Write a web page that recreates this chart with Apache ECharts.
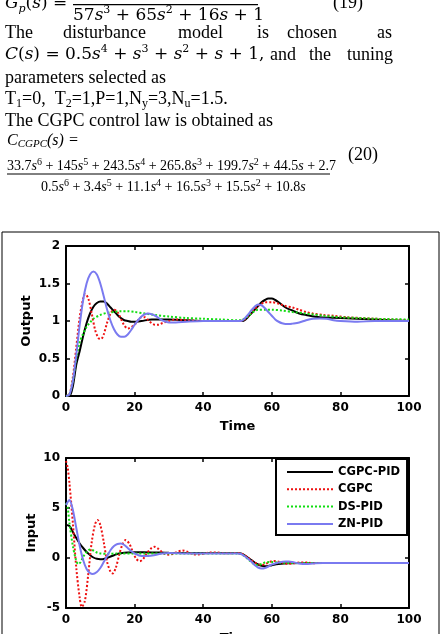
<!DOCTYPE html>
<html>
<head>
<meta charset="utf-8">
<script src="https://cdn.jsdelivr.net/npm/echarts@6/dist/echarts.min.js"></script>
<style>
  html, body { margin: 0; padding: 0; background: #fff; }
  #chart { width: 442px; height: 634px; }
</style>
</head>
<body>
<div id="chart"></div>
<script>
// series names (legend order)
const seriesNames = ['CGPC-PID', 'CGPC', 'DS-PID', 'ZN-PID'];

// output response [time, value]
const outCgpcPid = [[0,0],[1,0],[2,0.13],[3,0.42],[4,0.6],[5,0.8],[6,0.97],[7,1.1],[8,1.19],[9,1.24],[10,1.26],[11,1.26],[12,1.23],[13,1.18],[14,1.13],[15,1.08],[16,1.04],[17,1.01],[18,1.0],[19,0.99],[20,0.99],[22,1.0],[25,1.02],[30,1.02],[35,1.01],[40,1.0],[50,1.0],[51,1.0],[52,1.01],[53,1.05],[54,1.1],[55,1.15],[56,1.2],[57,1.25],[58,1.28],[59,1.3],[60,1.3],[61,1.28],[62,1.25],[64,1.18],[66,1.14],[68,1.1],[70,1.08],[74,1.05],[80,1.04],[90,1.02],[100,1.0]];
const outCgpc = [[0,0],[1,0.02],[2,0.25],[3,0.65],[4,1.05],[5,1.3],[5.6,1.36],[6.5,1.3],[7.5,1.1],[8.5,0.88],[9.5,0.77],[10.2,0.76],[11,0.82],[12,0.98],[13,1.1],[14,1.15],[15,1.12],[16,1.03],[17,0.94],[18,0.9],[19,0.92],[20,0.95],[21,1.01],[22,1.05],[23,1.05],[24,1.01],[25,0.97],[26,0.95],[27,0.95],[28,0.97],[30,1.0],[32,1.02],[35,1.01],[40,1.0],[50,1.0],[51,1.0],[52,1.02],[53,1.06],[54,1.11],[55,1.16],[56,1.2],[57,1.23],[58,1.25],[60,1.25],[62,1.23],[64,1.2],[66,1.18],[68,1.15],[70,1.12],[72,1.1],[75,1.08],[78,1.07],[82,1.05],[86,1.04],[90,1.03],[95,1.02],[100,1.01]];
const outDsPid = [[0,0],[1,0.02],[2,0.2],[3,0.5],[4,0.72],[5,0.83],[6,0.92],[7,0.98],[8,1.03],[10,1.08],[12,1.11],[14,1.12],[16,1.13],[18,1.13],[20,1.12],[23,1.1],[26,1.08],[30,1.06],[35,1.04],[40,1.03],[45,1.02],[50,1.01],[51,1.01],[52,1.03],[53,1.06],[54,1.1],[55,1.13],[56,1.15],[58,1.15],[60,1.15],[63,1.14],[66,1.12],[70,1.1],[75,1.07],[80,1.05],[85,1.04],[90,1.03],[100,1.02]];
const outZnPid = [[0,0],[1,0.02],[2,0.2],[3,0.55],[4,0.95],[5,1.28],[6,1.5],[7,1.62],[8,1.66],[9,1.62],[10,1.5],[11,1.33],[12,1.15],[13,1.0],[14,0.89],[15,0.82],[16,0.79],[17,0.79],[18,0.82],[19,0.88],[20,0.95],[21,1.01],[22,1.06],[23,1.09],[24,1.1],[25,1.09],[26,1.07],[27,1.04],[28,1.01],[30,0.98],[32,0.98],[35,0.99],[40,1.0],[50,1.0],[51,1.0],[52,1.03],[53,1.08],[54,1.14],[55,1.19],[56,1.22],[57,1.21],[58,1.17],[59,1.12],[60,1.07],[61,1.02],[62,0.99],[63,0.97],[64,0.96],[65,0.96],[66,0.965],[68,0.98],[70,1.01],[72,1.03],[74,1.035],[76,1.03],[78,1.01],[80,1.0],[85,0.99],[90,1.0],[100,1.0]];

// control input [time, value]
const inCgpcPid = [[0,3.3],[1,3.2],[2,2.6],[3,2.0],[4,1.45],[5,1.0],[6,0.6],[7,0.3],[8,0.05],[9,-0.08],[10,-0.12],[11,-0.1],[12,0.0],[13,0.15],[14,0.28],[15,0.4],[16,0.47],[18,0.54],[20,0.57],[25,0.56],[30,0.52],[40,0.5],[50,0.5],[51,0.45],[52,0.3],[53,0.05],[54,-0.2],[55,-0.45],[56,-0.65],[57,-0.78],[58,-0.82],[59,-0.8],[60,-0.72],[62,-0.6],[65,-0.52],[70,-0.5],[100,-0.5]];
const inCgpc = [[0,9.7],[0.5,9.0],[1,7.5],[2,3.5],[3,-1.0],[4,-4.0],[4.6,-4.9],[5.5,-4.3],[6.5,-1.6],[7.5,1.6],[8.5,3.4],[9.2,3.8],[10,3.3],[11,1.6],[12,-0.4],[13,-1.4],[13.6,-1.55],[14.5,-1.0],[15.5,0.3],[16.5,1.4],[17.4,1.8],[18.5,1.4],[19.5,0.6],[20.5,-0.1],[21.5,-0.32],[22.5,-0.1],[23.5,0.45],[24.8,0.95],[25.8,1.12],[27,0.9],[28,0.6],[29,0.38],[30,0.33],[31,0.4],[32.5,0.62],[34,0.75],[35.5,0.6],[37,0.4],[38.5,0.35],[40,0.42],[42,0.55],[44,0.55],[46,0.47],[48,0.48],[50,0.5],[51,0.45],[52,0.3],[53,0.05],[54,-0.2],[55,-0.45],[56,-0.62],[57,-0.7],[58,-0.62],[59,-0.45],[60,-0.33],[61,-0.3],[62,-0.36],[63,-0.46],[64,-0.55],[65,-0.58],[66,-0.55],[68,-0.45],[70,-0.45],[72,-0.52],[75,-0.5],[100,-0.5]];
const inDsPid = [[0,5.5],[0.5,5.0],[1,3.5],[2,1.2],[3,-0.3],[3.6,-0.6],[4.2,-0.45],[5,0.1],[6,0.6],[7,0.85],[8,0.75],[9,0.55],[10,0.45],[12,0.42],[15,0.45],[20,0.45],[30,0.45],[40,0.45],[50,0.45],[51,0.4],[52,0.2],[53,-0.1],[54,-0.4],[55,-0.65],[56,-0.7],[57,-0.6],[58,-0.45],[60,-0.4],[62,-0.45],[65,-0.5],[100,-0.5]];
const inZnPid = [[0,5.3],[0.5,5.6],[1,5.8],[2,4.8],[3,3.0],[4,1.2],[5,-0.2],[6,-1.1],[7,-1.5],[7.8,-1.6],[9,-1.4],[10,-1.0],[11,-0.4],[12,0.2],[13,0.8],[14,1.2],[15,1.4],[16,1.45],[17,1.3],[18,1.0],[19,0.7],[20,0.45],[22,0.2],[24,0.2],[26,0.3],[28,0.45],[30,0.5],[35,0.45],[50,0.45],[51,0.4],[52,0.2],[53,-0.05],[54,-0.35],[55,-0.7],[56,-0.95],[57,-1.05],[58,-1.0],[59,-0.85],[60,-0.65],[62,-0.45],[64,-0.35],[65,-0.35],[66,-0.4],[68,-0.55],[70,-0.6],[72,-0.55],[75,-0.5],[100,-0.5]];

const colors = ['#000000', '#ee1111', '#11dd11', '#7a7af0'];
const lineTypes = ['solid', 'dotted', 'dotted', 'solid'];
const sans = 'DejaVu Sans';
const serif = 'Liberation Serif';
const mathF = 'DejaVu Serif';

let chart = echarts.init(document.getElementById('chart'));

function xAx(gi, top) {
	return {
		type: 'value', gridIndex: gi, min: 0, max: 100, interval: 20,
		position: top ? 'top' : 'bottom',
		name: top ? '' : 'Time', nameLocation: 'middle', nameGap: 24, nameMoveOverlap: false,
		nameTextStyle: {fontFamily: sans, fontWeight: 'bold', fontSize: 13, color: '#000'},
		axisLine: {show: true, onZero: false, lineStyle: {color: '#000', width: 2}},
		axisTick: {show: true, inside: true, length: 4, lineStyle: {color: '#000', width: 1.5}},
		axisLabel: {show: !top, fontFamily: sans, fontWeight: 'bold', fontSize: 12, color: '#000', margin: 6},
		splitLine: {show: false}
	};
}
function yAx(gi, right, min, max, interval, name, gap) {
	return {
		type: 'value', gridIndex: gi, min: min, max: max, interval: interval,
		position: right ? 'right' : 'left',
		name: right ? '' : name, nameLocation: 'middle', nameGap: gap || 30, nameRotate: 90, nameMoveOverlap: false,
		nameTextStyle: {fontFamily: sans, fontWeight: 'bold', fontSize: 13, color: '#000'},
		axisLine: {show: true, onZero: false, lineStyle: {color: '#000', width: 2}},
		axisTick: {show: true, inside: true, length: 4, lineStyle: {color: '#000', width: 1.5}},
		axisLabel: {show: !right, fontFamily: sans, fontWeight: 'bold', fontSize: 12, color: '#000', margin: 6},
		splitLine: {show: false}
	};
}
function mkSeries(name, idx, data, axisIdx) {
	return {
		name: name, type: 'line', data: data, xAxisIndex: axisIdx, yAxisIndex: axisIdx,
		showSymbol: false, symbol: 'none', smooth: 0.3, animation: false,
		lineStyle: {color: colors[idx], width: 2, type: lineTypes[idx]},
		itemStyle: {color: colors[idx]}
	};
}

const rich = {
	t: {fontFamily: serif, fontSize: 18, lineHeight: 22, fill: '#000'},
	tb: {fontFamily: serif, fontSize: 12, lineHeight: 12, verticalAlign: 'bottom'},
	m: {fontFamily: mathF, fontSize: 17, lineHeight: 22},
	mi: {fontFamily: mathF, fontStyle: 'italic', fontSize: 17, lineHeight: 22},
	ms: {fontFamily: mathF, fontSize: 11, lineHeight: 12, verticalAlign: 'top'},
	mb: {fontFamily: mathF, fontStyle: 'italic', fontSize: 11, lineHeight: 12, verticalAlign: 'bottom'},
	n: {fontFamily: serif, fontSize: 14, lineHeight: 18},
	ni: {fontFamily: serif, fontStyle: 'italic', fontSize: 14, lineHeight: 18},
	ns: {fontFamily: serif, fontSize: 10, lineHeight: 10, verticalAlign: 'top'},
	c: {fontFamily: serif, fontStyle: 'italic', fontSize: 16, lineHeight: 18},
	cb: {fontFamily: serif, fontStyle: 'italic', fontSize: 11, lineHeight: 11, verticalAlign: 'bottom'}
};
function txt(x, y, text) {
	return {type: 'text', x: x, y: y, silent: true,
		style: {text: text, fill: '#000', fontFamily: serif, fontSize: 18, verticalAlign: 'middle', align: 'left', rich: rich}};
}
function sup(p) { return '{ms|' + p + '}'; }
function nsup(p) { return '{ns|' + p + '}'; }

const graphics = [
	// eq 19 (cut at top)
	txt(5, 4, '{mi|G}{mb|p}{m|(}{mi|s}{m|) =}'),
	{type: 'line', silent: true, shape: {x1: 73, y1: 4.7, x2: 258, y2: 4.7}, style: {stroke: '#000', lineWidth: 1.3}},
	txt(73, 16, '{m|57}{mi|s}' + sup(3) + '{m| + 65}{mi|s}' + sup(2) + '{m| + 16}{mi|s}{m| + 1}'),
	txt(333, 3, '{t|(19)}'),
	// paragraph
	txt(5, 33, '{t|The}'), txt(63, 33, '{t|disturbance}'), txt(178, 33, '{t|model}'),
	txt(257, 33, '{t|is}'), txt(287, 33, '{t|chosen}'), txt(377, 33, '{t|as}'),
	txt(5, 55, '{mi|C}{m|(}{mi|s}{m|) = 0.5}{mi|s}' + sup(4) + '{m| + }{mi|s}' + sup(3) + '{m| + }{mi|s}' + sup(2) + '{m| + }{mi|s}{m| + 1,}'),
	txt(270, 55, '{t|and}'), txt(309, 55, '{t|the}'), txt(347, 55, '{t|tuning}'),
	txt(5, 78, '{t|parameters selected as}'),
	txt(5, 99, '{t|T}{tb|1}{t|=0,  T}{tb|2}{t|=1,P=1,N}{tb|y}{t|=3,N}{tb|u}{t|=1.5.}'),
	txt(5, 121, '{t|The CGPC control law is obtained as}'),
	txt(7, 141, '{c|C}{cb|CGPC}{c|(s) =}'),
	txt(7, 166, '{n|33.7}{ni|s}' + nsup(6) + '{n| + 145}{ni|s}' + nsup(5) + '{n| + 243.5}{ni|s}' + nsup(4) + '{n| + 265.8}{ni|s}' + nsup(3) + '{n| + 199.7}{ni|s}' + nsup(2) + '{n| + 44.5}{ni|s}{n| + 2.7}'),
	{type: 'line', silent: true, shape: {x1: 7, y1: 174, x2: 330, y2: 174}, style: {stroke: '#000', lineWidth: 1}},
	txt(41, 187, '{n|0.5}{ni|s}' + nsup(6) + '{n| + 3.4}{ni|s}' + nsup(5) + '{n| + 11.1}{ni|s}' + nsup(4) + '{n| + 16.5}{ni|s}' + nsup(3) + '{n| + 15.5}{ni|s}' + nsup(2) + '{n| + 10.8}{ni|s}'),
	txt(348, 155, '{t|(20)}'),
	// figure frame
	{type: 'rect', silent: true, shape: {x: 2, y: 232, width: 437, height: 420}, style: {fill: 'none', stroke: '#000', lineWidth: 1}}
];

const option = {
	backgroundColor: '#fff',
	animation: false,
	grid: [
		{left: 66, top: 246, width: 343, height: 150, outerBoundsMode: 'none'},
		{left: 66, top: 458, width: 343, height: 150, outerBoundsMode: 'none'}
	],
	xAxis: [xAx(0, false), xAx(0, true), xAx(1, false), xAx(1, true)],
	yAxis: [yAx(0, false, 0, 2, 0.5, 'Output', 33), yAx(0, true, 0, 2, 0.5), yAx(1, false, -5, 10, 5, 'Input', 28), yAx(1, true, -5, 10, 5)],
	legend: {
		data: seriesNames, left: 276, top: 459, orient: 'vertical',
		itemWidth: 46, itemHeight: 14, itemGap: 5.3, padding: [7, 7, 5, 10],
		borderColor: '#000', borderWidth: 2, borderRadius: 0, backgroundColor: '#fff',
		itemStyle: {opacity: 0},
		textStyle: {fontFamily: sans, fontWeight: 'bold', fontSize: 11.5, color: '#000'}
	},
	graphic: graphics,
	series: [
		mkSeries(seriesNames[0], 0, outCgpcPid, 0),
		mkSeries(seriesNames[1], 1, outCgpc, 0),
		mkSeries(seriesNames[2], 2, outDsPid, 0),
		mkSeries(seriesNames[3], 3, outZnPid, 0),
		mkSeries(seriesNames[0], 0, inCgpcPid, 2),
		mkSeries(seriesNames[1], 1, inCgpc, 2),
		mkSeries(seriesNames[2], 2, inDsPid, 2),
		mkSeries(seriesNames[3], 3, inZnPid, 2)
	]
};
chart.setOption(option);
window.addEventListener('resize', () => {
	chart.resize();
});
</script>
</body>
</html>
